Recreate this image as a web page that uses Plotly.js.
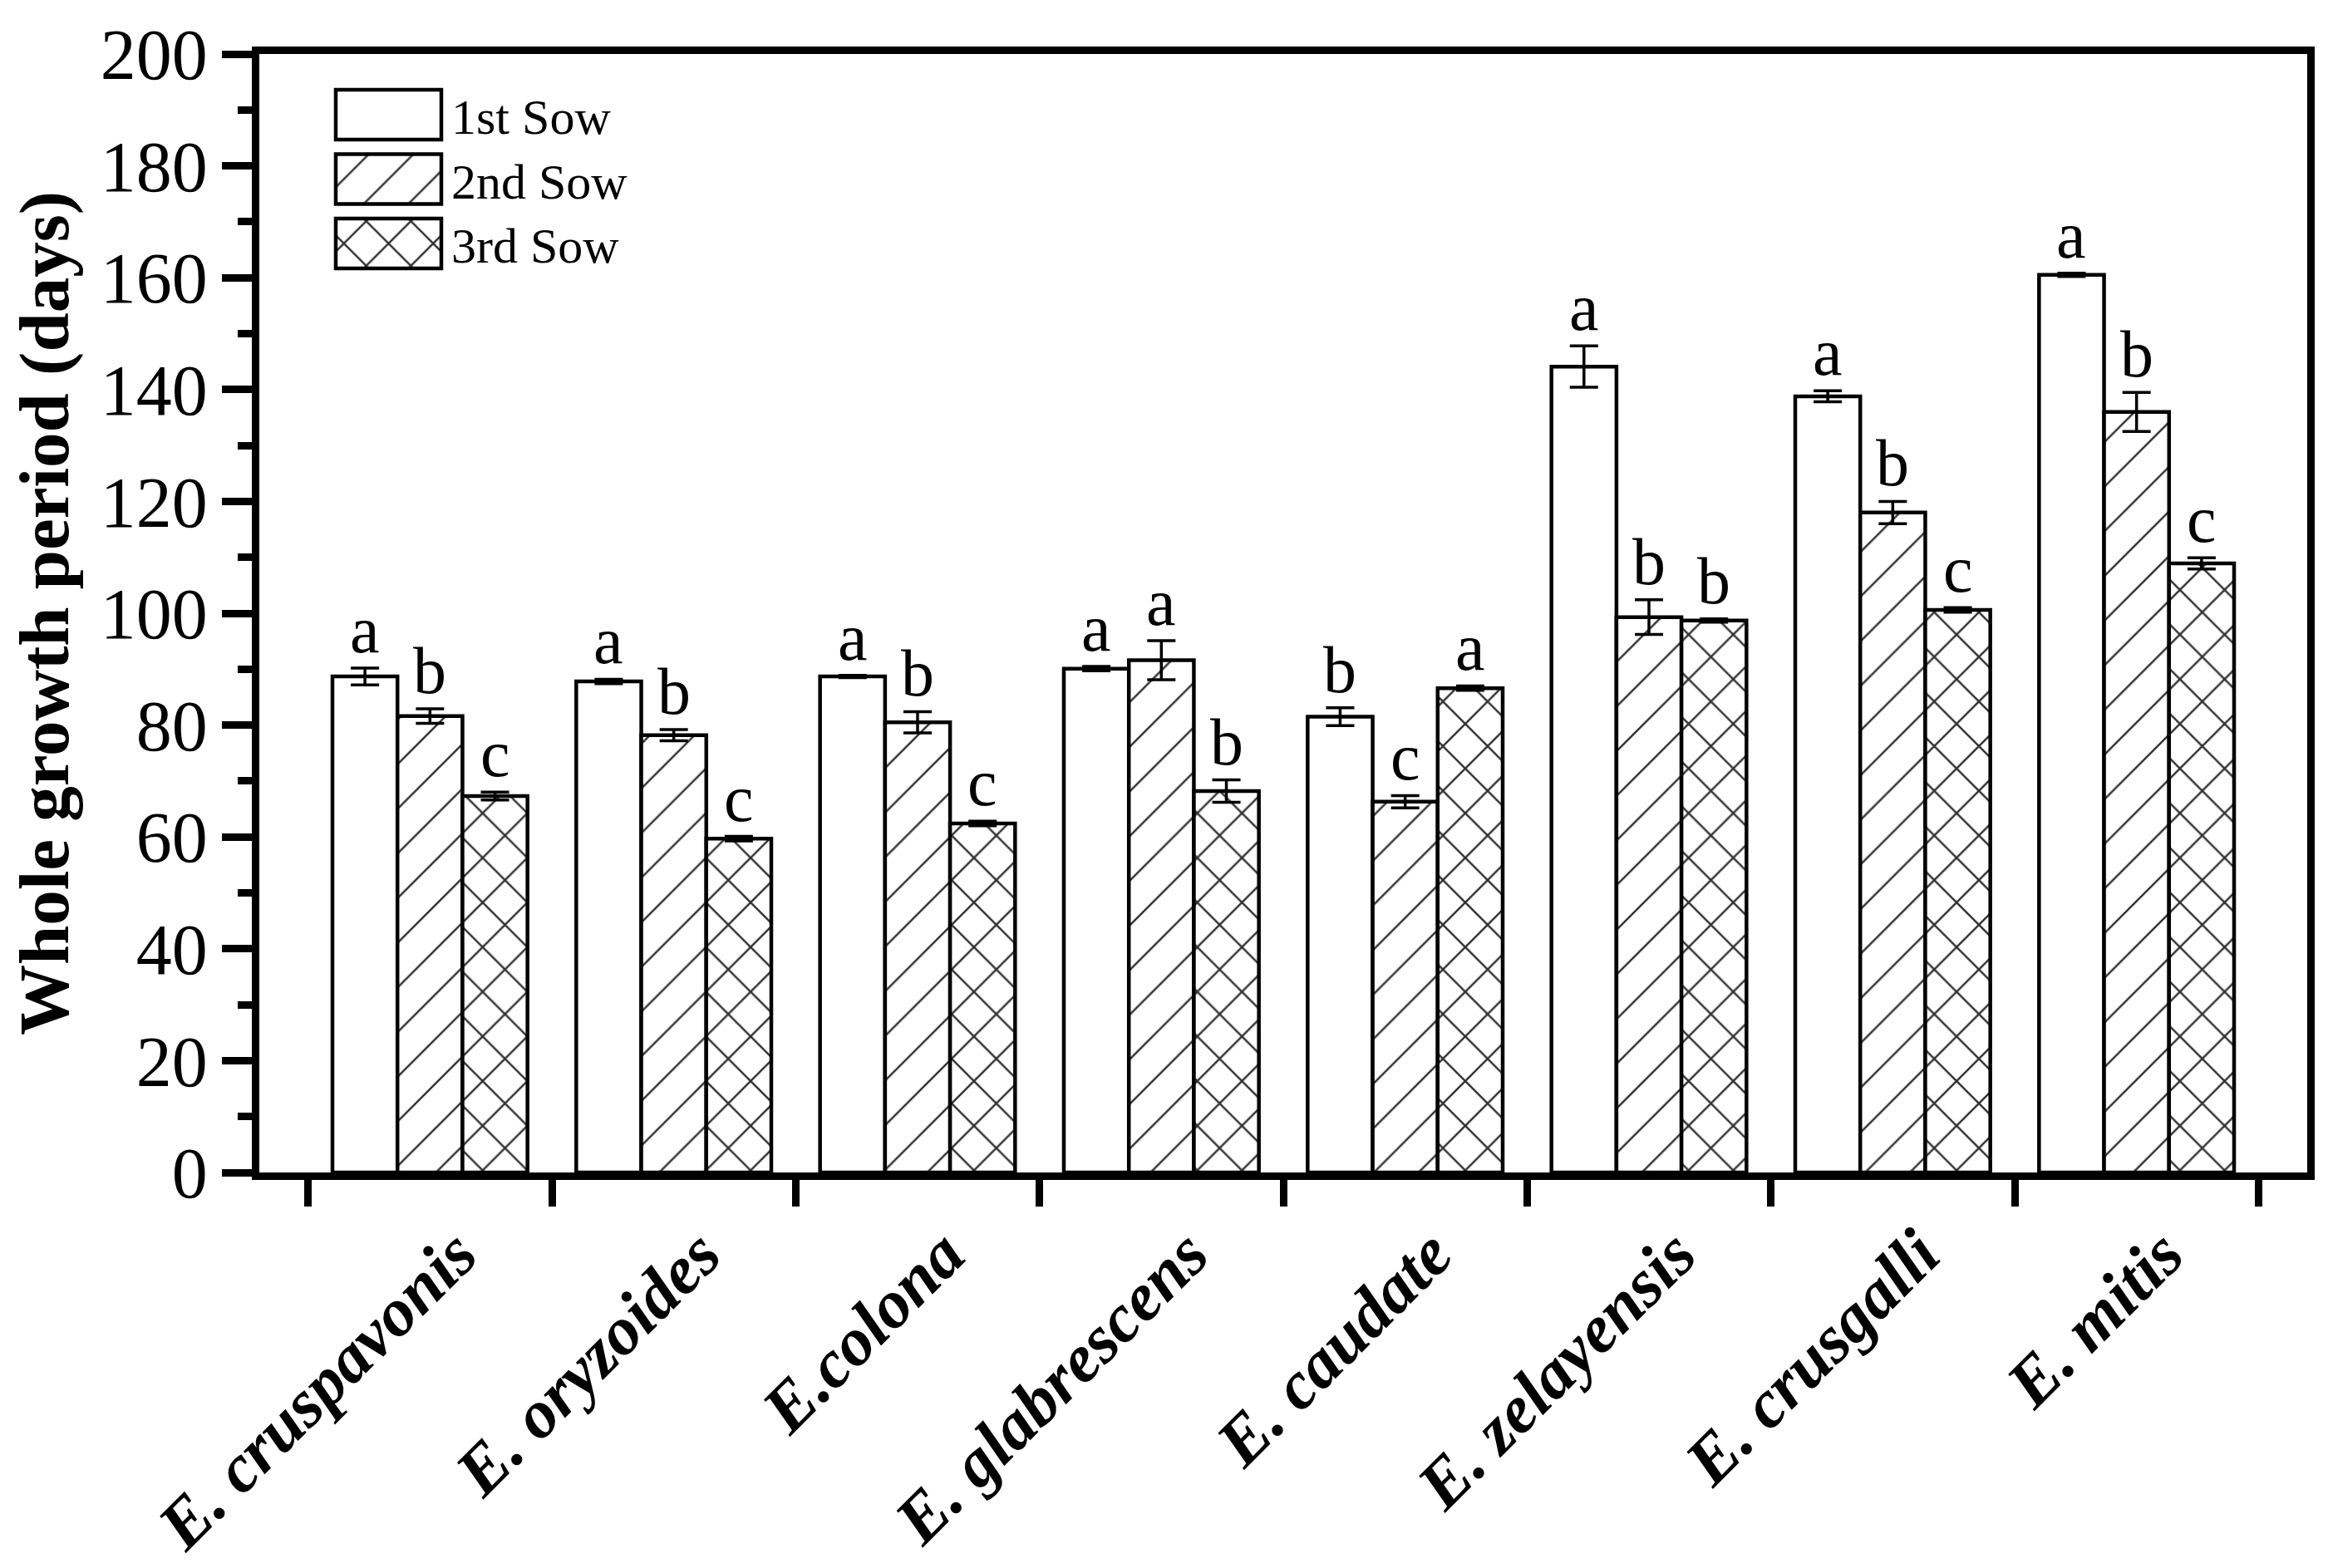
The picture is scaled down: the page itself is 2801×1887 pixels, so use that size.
<!DOCTYPE html>
<html>
<head>
<meta charset="utf-8">
<script src="https://cdn.plot.ly/plotly-3.0.1.min.js"></script>
<style>
html,body{margin:0;padding:0;background:#fff;}
#chart{width:2801px;height:1887px;}
</style>
</head>
<body>
<div id="chart"></div>
<script>
// ---- data ----
const CATEGORIES = ['E. cruspavonis','E. oryzoides','E.colona','E. glabrescens','E. caudate','E. zelayensis','E. crusgalli','E. mitis'];
const SERIES_NAMES = ['1st Sow','2nd Sow','3rd Sow'];
const SOW1 = [88.7, 87.8, 88.7, 90.1, 81.5, 144.1, 138.8, 160.5];
const SOW1_ERR = [1.5, 0.4, 0.2, 0.4, 1.6, 3.7, 1.0, 0.3];
const SOW2 = [81.6, 78.2, 80.5, 91.6, 66.3, 99.3, 118.0, 136.0];
const SOW2_ERR = [1.3, 1.0, 1.9, 3.5, 1.1, 3.1, 2.0, 3.5];
const SOW3 = [67.3, 59.7, 62.4, 68.2, 86.6, 98.7, 100.6, 108.9];
const SOW3_ERR = [0.7, 0.4, 0.4, 2.0, 0.4, 0.3, 0.4, 1.0];
const LETTERS1 = ['a','a','a','a','b','a','a','a'];
const LETTERS2 = ['b','b','b','a','c','b','b','b'];
const LETTERS3 = ['c','c','c','b','a','b','c','c'];
const Y_TICKS = [0,20,40,60,80,100,120,140,160,180,200];
const Y_MINOR = [10,30,50,70,90,110,130,150,170,190];
const Y_TITLE = 'Whole growth period (days)';

// ---- style ----
const FONT = '"Liberation Serif", "Times New Roman", Times, serif';
const BARGAP = 0.2;
const PATTERN_SIZE = 38;
const PATTERNS = [
  null,
  {shape:'/', size:PATTERN_SIZE, solidity:0.066, fgcolor:'#333', bgcolor:'#fff'},
  {shape:'x', size:PATTERN_SIZE, solidity:0.127, fgcolor:'#333', bgcolor:'#fff'}
];

const seriesVals = [SOW1, SOW2, SOW3];
const seriesErr = [SOW1_ERR, SOW2_ERR, SOW3_ERR];
const seriesLetters = [LETTERS1, LETTERS2, LETTERS3];

const traces = SERIES_NAMES.map((name, si) => ({
  type: 'bar',
  name: name,
  x: CATEGORIES,
  y: seriesVals[si],
  error_y: {type:'data', array: seriesErr[si], visible:true, color:'#000', thickness:3.5, width:17},
  marker: Object.assign({color:'#fff', line:{color:'#000', width:4.5}},
          PATTERNS[si] ? {pattern: PATTERNS[si]} : {}),
  hoverinfo: 'none'
}));

const barW = (1 - BARGAP) / SERIES_NAMES.length;
const annotations = [];
SERIES_NAMES.forEach((name, si) => {
  CATEGORIES.forEach((c, gi) => {
    annotations.push({
      xref:'x', yref:'y',
      x: gi + (si - (SERIES_NAMES.length - 1) / 2) * barW,
      y: seriesVals[si][gi] + seriesErr[si][gi],
      text: seriesLetters[si][gi],
      showarrow: false,
      xanchor: 'center', yanchor: 'bottom',
      yshift: 0,
      font: {family: FONT, size: 80, color:'#000'}
    });
  });
});

const layout = {
  width: 2801, height: 1887,
  margin: {l:312, r:25, t:65, b:476, pad:0},
  paper_bgcolor:'#fff', plot_bgcolor:'#fff',
  barmode:'group', bargap:BARGAP, bargroupgap:0,
  font:{family:FONT, color:'#000'},
  showlegend:true,
  legend:{x:0.03, y:0.97, xanchor:'left', yanchor:'top', bgcolor:'rgba(0,0,0,0)', borderwidth:0,
          font:{family:FONT, size:60, color:'#000'}, tracegroupgap:0},
  xaxis:{
    type:'category', categoryorder:'array', categoryarray:CATEGORIES,
    range:[-0.7, 7.7],
    showline:true, linecolor:'#000', linewidth:9, mirror:true,
    ticks:'outside', tickson:'boundaries', ticklen:32, tickwidth:9, tickcolor:'#000',
    tickangle:-45, ticklabelshift:32, ticklabelstandoff:8,
    tickfont:{family:FONT, size:82, weight:'bold', style:'italic', color:'#000'},
    showgrid:false, zeroline:false, automargin:false, fixedrange:true
  },
  yaxis:{
    range:[0,200], tickmode:'array', tickvals:Y_TICKS,
    ticks:'outside', ticklen:36, tickwidth:9, tickcolor:'#000',
    minor:{tickmode:'array', tickvals:Y_MINOR, ticks:'outside', ticklen:17, tickwidth:9, tickcolor:'#000', showgrid:false},
    showline:true, linecolor:'#000', linewidth:9, mirror:true,
    showgrid:false, zeroline:false,
    tickfont:{family:FONT, size:86, color:'#000'},
    title:{text:Y_TITLE, font:{family:FONT, size:85, weight:'bold', color:'#000'}, standoff:14},
    automargin:false, fixedrange:true
  },
  annotations: annotations
};

// legend swatch geometry (px)
const LEG_X = 404, LEG_W = 127, LEG_H = 60, LEG_ROW_Y = [138, 215.5, 293], LEG_TEXT_GAP = 12;

function fixLegend(gd){
  try {
    const leg = gd.querySelector('g.legend');
    if(!leg) return;
    leg.querySelectorAll('[clip-path]').forEach(e => e.removeAttribute('clip-path'));
    const items = leg.querySelectorAll('g.traces');
    items.forEach((it, i) => {
      const pm = it.parentNode.getCTM();
      it.setAttribute('transform', 'translate(' + (-pm.e) + ',' + (LEG_ROW_Y[i] - pm.f) + ')');
      const p = it.querySelector('g.legendpoints path');
      if(p){
        p.setAttribute('d', 'M' + (-LEG_W/2) + ',' + (-LEG_H/2) + 'H' + (LEG_W/2) + 'V' + (LEG_H/2) + 'H' + (-LEG_W/2) + 'Z');
        p.setAttribute('transform', 'translate(' + (LEG_X + LEG_W/2) + ',0)');
        p.style.strokeWidth = '4.5px';
        p.style.stroke = '#000';
      }
      const t = it.querySelector('text.legendtext');
      if(t){
        t.setAttribute('x', LEG_X + LEG_W + LEG_TEXT_GAP);
        t.querySelectorAll('tspan[x]').forEach(ts => ts.setAttribute('x', LEG_X + LEG_W + LEG_TEXT_GAP));
      }
    });
    gd.querySelectorAll('pattern').forEach(pt => {
      if(pt.id && pt.id.indexOf('legend') >= 0){
        const w = parseFloat(pt.getAttribute('width'));
        if(w > 0){
          const s = PATTERN_SIZE * Math.SQRT2 / w;
          pt.setAttribute('patternTransform', 'scale(' + s + ')');
        }
      }
    });
  } catch(e) { console.log(e); }
}

const gd = document.getElementById('chart');
Plotly.newPlot(gd, traces, layout, {staticPlot:true, displayModeBar:false}).then(() => fixLegend(gd));
</script>
</body>
</html>
